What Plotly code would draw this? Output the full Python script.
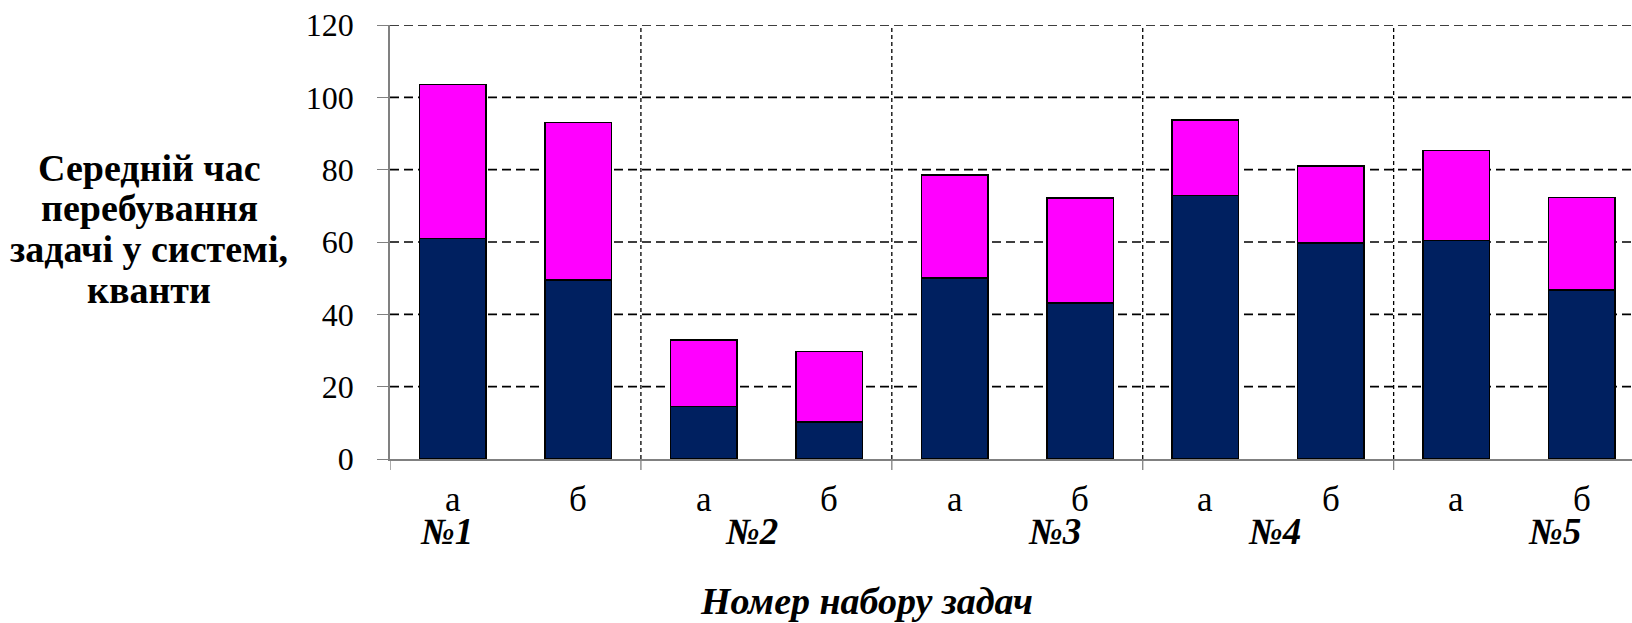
import plotly.graph_objects as go

# Task sets and scheduling variants
groups = ["№1", "№2", "№3", "№4", "№5"]
variants = ["а", "б"]

# Mean time in the system (quanta), split into the two stacked components
base_part = [61.0, 49.5, 14.5, 10.2, 50.1, 43.1, 72.8, 59.7, 60.4, 46.7]
extra_part = [42.5, 43.5, 18.4, 19.5, 28.4, 29.1, 20.9, 21.3, 24.9, 25.6]

y_ticks = [0, 20, 40, 60, 80, 100, 120]

y_title_lines = ["Середній час", "перебування", "задачі у системі,", "кванти"]
x_title = "Номер набору задач"

NAVY = "#002060"
MAGENTA = "#FF00FF"
FONT = "'Liberation Serif', 'Times New Roman', Times, serif"

n = len(base_part)
xs = list(range(n))
bar_labels = [variants[i % 2] for i in xs]

fig = go.Figure()
fig.add_trace(go.Bar(
    x=xs, y=base_part, width=0.53,
    marker=dict(color=NAVY, line=dict(color="black", width=1.5)),
    hoverinfo="y", showlegend=False,
))
fig.add_trace(go.Bar(
    x=xs, y=extra_part, width=0.53,
    marker=dict(color=MAGENTA, line=dict(color="black", width=1.5)),
    hoverinfo="y", showlegend=False,
))

shapes = []
# horizontal dashed gridlines
for v in y_ticks[1:]:
    shapes.append(dict(type="line", xref="paper", yref="y", x0=0, x1=1, y0=v, y1=v,
                       line=dict(color="black", width=1.6, dash="9px,5px"), layer="below"))
# group separators and the tick marks under the axis
for g in range(len(groups)):
    xb = g * 2 - 0.5
    if g > 0:
        shapes.append(dict(type="line", xref="x", yref="y", x0=xb, x1=xb, y0=0, y1=120,
                           line=dict(color="black", width=1.3, dash="4px,3px"), layer="below"))
    shapes.append(dict(type="line", xref="x", yref="paper", x0=xb, x1=xb,
                       ysizemode="pixel", yanchor=0, y0=0, y1=-11,
                       line=dict(color="#808080", width=1.3)))

annotations = []
for i, lab in enumerate(bar_labels):
    annotations.append(dict(x=i, y=0, xref="x", yref="paper", text=lab, showarrow=False,
                            yanchor="middle", yshift=-40,
                            font=dict(family=FONT, size=35, color="black")))

group_label_x = [-0.05, 2.38, 4.8, 6.55, 8.78]
for gx, g in zip(group_label_x, groups):
    annotations.append(dict(x=gx, y=0, xref="x", yref="paper", text=f"<b><i>{g}</i></b>",
                            showarrow=False, yanchor="middle", yshift=-72,
                            font=dict(family=FONT, size=37, color="black")))

annotations.append(dict(x=(866 - 390) / 1242.0, y=0, xref="paper", yref="paper",
                        text=f"<b><i>{x_title}</i></b>", showarrow=False,
                        yanchor="middle", yshift=-142,
                        font=dict(family=FONT, size=38, color="black")))

# y-axis title: four tightly spaced lines centred about 150 px from the left edge
for k, line in enumerate(y_title_lines):
    mid = 167.5 + 40.8 * k
    annotations.append(dict(x=-(390 - 149) / 1242.0, y=1, xref="paper", yref="paper",
                            xanchor="center", yanchor="middle", yshift=-(mid - 25),
                            text=f"<b>{line}</b>", showarrow=False,
                            font=dict(family=FONT, size=38, color="black")))

fig.update_layout(
    width=1632, height=623,
    margin=dict(l=390, r=0, t=25, b=164),
    paper_bgcolor="white", plot_bgcolor="white",
    barmode="stack",
    font=dict(family=FONT),
    shapes=shapes, annotations=annotations,
    xaxis=dict(range=[-0.5, 9.4], showgrid=False, zeroline=False,
               showticklabels=False, ticks="",
               showline=True, linecolor="#808080", linewidth=1.5, fixedrange=True),
    yaxis=dict(range=[0, 120], tickvals=y_ticks, showgrid=False, zeroline=False,
               showline=True, linecolor="#808080", linewidth=1.5,
               ticks="outside", ticklen=11, tickcolor="#808080", tickwidth=1.3,
               ticklabelstandoff=17,
               tickfont=dict(family=FONT, size=32, color="black"), fixedrange=True),
)

fig.write_html("out.html")
